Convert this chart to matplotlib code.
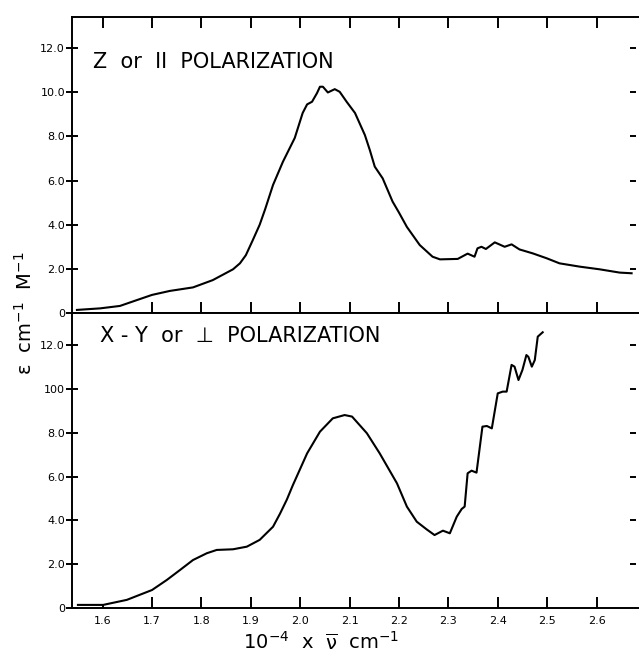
import matplotlib
matplotlib.use("Agg")
import matplotlib.pyplot as plt

# ---- data ----
z_x = [1.548, 1.595, 1.635, 1.670, 1.700, 1.736, 1.783, 1.823, 1.864, 1.878, 1.890,
       1.904, 1.918, 1.929, 1.945, 1.965, 1.989, 2.005, 2.014, 2.024, 2.034, 2.040,
       2.046, 2.056, 2.070, 2.080, 2.094, 2.111, 2.131, 2.141, 2.151, 2.167, 2.187,
       2.200, 2.216, 2.242, 2.268, 2.283, 2.319, 2.339, 2.353, 2.359, 2.367, 2.376,
       2.394, 2.414, 2.428, 2.444, 2.471, 2.499, 2.525, 2.566, 2.606, 2.647, 2.671]
z_y = [0.14, 0.21, 0.32, 0.59, 0.82, 1.00, 1.16, 1.49, 1.98, 2.25, 2.62,
       3.30, 4.00, 4.70, 5.80, 6.85, 7.93, 9.06, 9.45, 9.57, 9.96, 10.25,
       10.25, 9.99, 10.14, 10.02, 9.57, 9.06, 8.06, 7.38, 6.63, 6.10, 5.05,
       4.55, 3.90, 3.08, 2.55, 2.43, 2.45, 2.69, 2.55, 2.93, 3.00, 2.90,
       3.20, 3.00, 3.11, 2.88, 2.70, 2.48, 2.25, 2.10, 1.98, 1.83, 1.80]

xy_x = [1.550, 1.601, 1.649, 1.700, 1.730, 1.757, 1.783, 1.811, 1.831, 1.864, 1.892,
        1.918, 1.945, 1.959, 1.973, 1.985, 2.014, 2.040, 2.066, 2.090, 2.105, 2.135,
        2.161, 2.196, 2.216, 2.236, 2.256, 2.272, 2.289, 2.303, 2.317, 2.327, 2.333,
        2.339, 2.347, 2.357, 2.369, 2.378, 2.388, 2.400, 2.410, 2.418, 2.428, 2.434,
        2.442, 2.450, 2.458, 2.462, 2.469, 2.475, 2.481, 2.491]
xy_y = [0.14, 0.14, 0.37, 0.82, 1.28, 1.74, 2.19, 2.50, 2.65, 2.68, 2.80,
        3.11, 3.71, 4.30, 4.95, 5.60, 7.06, 8.05, 8.66, 8.81, 8.74, 7.98,
        7.06, 5.69, 4.63, 3.94, 3.59, 3.33, 3.53, 3.41, 4.17, 4.52, 4.63,
        6.15, 6.27, 6.18, 8.28, 8.31, 8.20, 9.80, 9.88, 9.88, 11.10, 11.02,
        10.41, 10.87, 11.55, 11.47, 11.02, 11.32, 12.39, 12.59]

x_ticks = [1.6, 1.7, 1.8, 1.9, 2.0, 2.1, 2.2, 2.3, 2.4, 2.5, 2.6]
x_labels = ["1.6", "1.7", "1.8", "1.9", "2.0", "2.1", "2.2", "2.3", "2.4", "2.5", "2.6"]
y_ticks = [0, 2, 4, 6, 8, 10, 12]
y_labels_top = ["0", "2.0", "4.0", "6.0", "8.0", "10.0", "12.0"]
y_labels_bot = ["0", "2.0", "4.0", "6.0", "8.0", "100", "12.0"]
right_ticks = [2, 4, 6, 8, 10, 12]

plt.rcParams["font.family"] = ["DejaVu Sans"]
plt.rcParams["mathtext.default"] = "regular"

fig = plt.figure(figsize=(6.39, 6.63), dpi=100)
ax1 = fig.add_axes([0.1127, 0.5279, 0.8873, 0.4465])
ax2 = fig.add_axes([0.1127, 0.0830, 0.8873, 0.4449], sharex=ax1)

for ax in (ax1, ax2):
    ax.spines["right"].set_visible(False)
    for s in ("left", "top", "bottom"):
        ax.spines[s].set_linewidth(1.4)
    ax.set_xlim(1.538, 2.686)
    ax.set_yticks(y_ticks)
    ax.tick_params(axis="y", direction="inout", length=8, width=1.4, pad=1,
                   labelsize=8, left=True, right=False)

ax1.plot(z_x, z_y, color="black", lw=1.5)
ax2.plot(xy_x, xy_y, color="black", lw=1.5)

ax1.set_ylim(0, 13.41)
ax2.set_ylim(0, 13.47)
ax1.set_yticklabels(y_labels_top)
ax2.set_yticklabels(y_labels_bot)

# x ticks
ax1.set_xticks(x_ticks)
ax1.tick_params(axis="x", direction="in", length=8, width=1.4, top=True, bottom=True,
                labelbottom=False, labeltop=False)
ax2.tick_params(axis="x", direction="in", length=8, width=1.4, top=False, bottom=True,
                labelsize=8, pad=6)
ax2.set_xticklabels(x_labels)
# no tick mark at 1.6 on the inner edges (only a tiny dot at the bottom)
ax1.xaxis.get_major_ticks()[0].tick1line.set_visible(False)
ax2.xaxis.get_major_ticks()[0].tick1line.set_markersize(2)

# right-hand short marks
for ax in (ax1, ax2):
    sec = ax.secondary_yaxis(0.989)
    sec.spines["right"].set_visible(False)
    sec.set_yticks(right_ticks)
    sec.tick_params(direction="inout", length=4, width=1.4, labelright=False)

ax1.text(0.037, 0.828, "Z  or  II  POLARIZATION", transform=ax1.transAxes,
         fontsize=15, va="baseline", ha="left")
ax2.text(0.05, 0.902, "X - Y  or  \u22a5  POLARIZATION", transform=ax2.transAxes,
         fontsize=15, va="baseline", ha="left")

fig.text(0.039, 0.527, r"$\epsilon$  cm$^{-1}$  M$^{-1}$", rotation=90,
         fontsize=14, ha="center", va="center")
fig.text(0.502, 0.020, r"10$^{-4}$  x  $\overline{\nu}$  cm$^{-1}$",
         fontsize=14, ha="center", va="baseline")

fig.savefig("out.png", dpi=100)
